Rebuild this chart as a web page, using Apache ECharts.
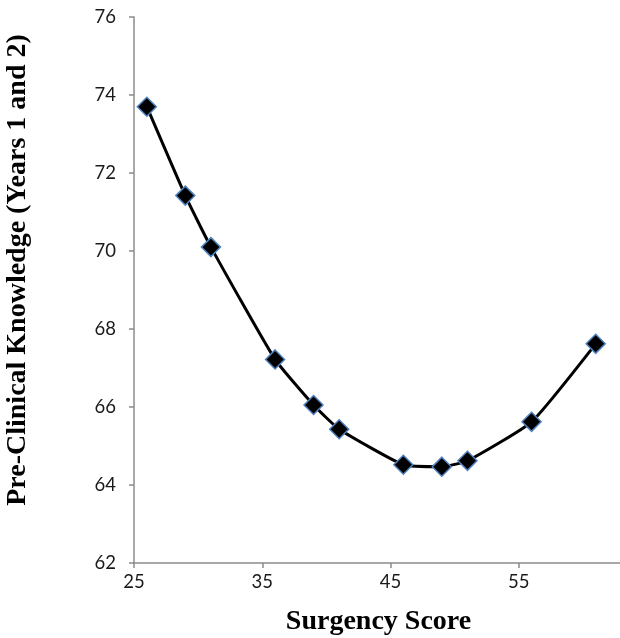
<!DOCTYPE html>
<html><head><meta charset="utf-8">
<script src="https://cdn.jsdelivr.net/npm/echarts@6/dist/echarts.min.js"></script>
<style>html,body{margin:0;padding:0;background:#fff}#c{width:620px;height:638px}</style>
</head><body><div id="c"></div>
<script>
const surgencyScore = [26, 29, 31, 36, 39, 41, 46, 49, 51, 56, 61];
const preClinical = [73.7, 71.42, 70.1, 67.22, 66.05, 65.43, 64.52, 64.47, 64.62, 65.62, 67.62];
const xTitle = 'Surgency Score';
const yTitle = 'Pre-Clinical Knowledge (Years 1 and 2)';

const chart = echarts.init(document.getElementById('c'));
chart.setOption({
  animation: false,
  grid: {left: 134, top: 17, width: 513, height: 546, outerBoundsMode: 'none', containLabel: false},
  xAxis: {
    type: 'value', min: 25, max: 65, interval: 10,
    name: xTitle, nameLocation: 'middle', nameGap: 45,
    nameTextStyle: {fontFamily: 'Liberation Serif', fontWeight: 'bold', fontSize: 28, color: '#000', padding: [0, 24, 0, 0]},
    axisLine: {lineStyle: {color: '#8c8c8c', width: 1.5}},
    axisTick: {show: true, length: 5, lineStyle: {color: '#8c8c8c', width: 1.5}},
    axisLabel: {fontFamily: 'Lato', fontSize: 18.5, color: '#1a1a1a', margin: 10},
    splitLine: {show: false}
  },
  yAxis: {
    type: 'value', min: 62, max: 76, interval: 2,
    name: yTitle, nameLocation: 'middle', nameGap: 102, nameRotate: 90,
    nameTextStyle: {fontFamily: 'Liberation Serif', fontWeight: 'bold', fontSize: 28, color: '#000', padding: [0, 0, 0, 40]},
    axisLine: {show: true, lineStyle: {color: '#8c8c8c', width: 1.5}},
    axisTick: {show: true, length: 5, lineStyle: {color: '#8c8c8c', width: 1.5}},
    axisLabel: {fontFamily: 'Lato', fontSize: 18.5, color: '#1a1a1a', margin: 18},
    splitLine: {show: false}
  },
  series: [{
    type: 'line',
    data: surgencyScore.map((x, i) => [x, preClinical[i]]),
    smooth: 0.15,
    symbol: 'diamond', symbolSize: 19,
    lineStyle: {color: '#000', width: 3},
    itemStyle: {color: '#000', borderColor: '#4f81bd', borderWidth: 1.5}
  }]
});
</script></body></html>
